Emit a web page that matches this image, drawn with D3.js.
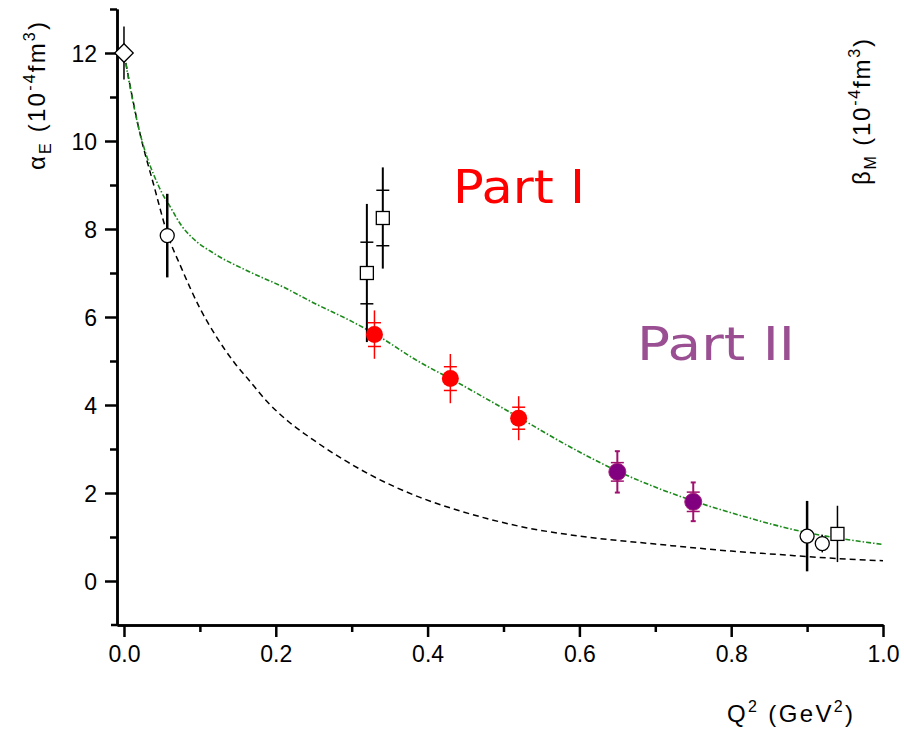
<!DOCTYPE html>
<html>
<head>
<meta charset="utf-8">
<script src="https://cdnjs.cloudflare.com/ajax/libs/d3/7.8.5/d3.min.js"></script>
<style>
  html, body { margin: 0; padding: 0; background: #fff; }
  svg { display: block; }
  .tick text { font-family: "Liberation Sans", Arial, sans-serif; font-size: 23px; fill: #000; }
</style>
</head>
<body>
<script>
// ---- data ----
// model curves: alpha_E(Q^2)
const greenQ2 = [0, 0.01, 0.02, 0.03, 0.04, 0.05, 0.06, 0.076, 0.09, 0.12, 0.165, 0.21, 0.25, 0.3, 0.33, 0.39, 0.43, 0.52, 0.58, 0.65, 0.75, 0.81, 0.9, 0.95, 1.0];
const greenVal = [12.0, 11.05, 10.25, 9.65, 9.2, 8.82, 8.53, 8.07, 7.8, 7.43, 7.03, 6.68, 6.32, 5.9, 5.62, 4.97, 4.6, 3.72, 3.12, 2.5, 1.82, 1.5, 1.1, 0.95, 0.83];
const blackQ2 = [0, 0.02, 0.04, 0.057, 0.076, 0.1, 0.12, 0.146, 0.164, 0.19, 0.217, 0.25, 0.295, 0.326, 0.39, 0.434, 0.478, 0.522, 0.6, 0.7, 0.8, 0.864, 0.94, 1.0];
const blackVal = [12.0, 10.25, 8.95, 7.9, 7.1, 6.2, 5.6, 4.95, 4.58, 4.05, 3.62, 3.2, 2.7, 2.4, 1.9, 1.64, 1.42, 1.24, 1.02, 0.84, 0.68, 0.6, 0.51, 0.46];

// real photon point
const diamondQ2 = [0];
const diamondVal = [12.0];
const diamondErr = [0.6];

// open circles
const circleQ2 = [0.057, 0.9, 0.92];
const circleVal = [7.85, 1.02, 0.85];
const circleErr = [0.95, 0.8, 0.2];
const circleBarWidth = [2.5, 2.5, 1.5];

// open squares
const squareQ2 = [0.32, 0.341, 0.94];
const squareVal = [7.0, 8.25, 1.07];
const squareStat = [0.7, 0.63, 0];
const squareTot = [1.57, 1.15, 0.64];

// Part I
const redQ2 = [0.33, 0.43, 0.52];
const redVal = [5.6, 4.6, 3.7];
const redStat = [0.27, 0.27, 0.25];
const redTot = [0.55, 0.56, 0.5];

// Part II
const purpleQ2 = [0.65, 0.75];
const purpleVal = [2.48, 1.8];
const purpleStat = [0.21, 0.22];
const purpleTot = [0.47, 0.44];

const xMajor = [0, 0.2, 0.4, 0.6, 0.8, 1.0];
const xMinor = [0.1, 0.3, 0.5, 0.7, 0.9];
const yMajor = [0, 2, 4, 6, 8, 10, 12];
const yMinor = [1, 3, 5, 7, 9, 11, 13];

// ---- layout ----
const W = 904, H = 731;
const svg = d3.select("body").append("svg").attr("width", W).attr("height", H);

const x = d3.scaleLinear().domain([-0.0092, 1.0]).range([117, 883]);
const y = d3.scaleLinear().domain([-1, 13]).range([625, 9]);

const zip = (a, b) => a.map((v, i) => [v, b[i]]);

// ---- axes ----
const axisStroke = 2.5;
function styleAxis(g) {
  g.select(".domain").attr("stroke", "#000").attr("stroke-width", axisStroke);
  g.selectAll(".tick line").attr("stroke", "#000").attr("stroke-width", axisStroke);
}

const yAxisMinor = svg.append("g").attr("transform", `translate(${x.range()[0]},0)`)
  .call(d3.axisLeft(y).tickValues(yMinor).tickSize(7).tickSizeOuter(0).tickFormat(""));
styleAxis(yAxisMinor);
const yAxis = svg.append("g").attr("transform", `translate(${x.range()[0]},0)`)
  .call(d3.axisLeft(y).tickValues(yMajor).tickSize(12).tickSizeOuter(0).tickPadding(8).tickFormat(d3.format("d")));
styleAxis(yAxis);
yAxis.selectAll(".tick text").attr("dy", "0.36em");

const xAxisMinor = svg.append("g").attr("transform", `translate(0,${y.range()[0]})`)
  .call(d3.axisBottom(x).tickValues(xMinor).tickSize(7).tickSizeOuter(0).tickFormat(""));
styleAxis(xAxisMinor);
const xAxis = svg.append("g").attr("transform", `translate(0,${y.range()[0]})`)
  .call(d3.axisBottom(x).tickValues(xMajor).tickSize(12).tickSizeOuter(0).tickPadding(9).tickFormat(d3.format(".1f")));
styleAxis(xAxis);
// small foot of the horizontal axis left of the vertical axis
svg.append("line").attr("x1", 111).attr("x2", x.range()[0]).attr("y1", y.range()[0]).attr("y2", y.range()[0])
  .attr("stroke", "#000").attr("stroke-width", axisStroke);

// ---- axis titles ----
const titleFont = '"Liberation Sans", Arial, sans-serif';
function titleWithUnits(sel, sym, sub) {
  sel.append("tspan").text(sym);
  sel.append("tspan").attr("font-size", 16).attr("dy", 6).text(sub);
  sel.append("tspan").attr("dy", -6).text(" (10");
  sel.append("tspan").attr("font-size", 16).attr("dy", -10).text("-4");
  sel.append("tspan").attr("dy", 10).text("fm");
  sel.append("tspan").attr("font-size", 16).attr("dy", -10).text("3");
  sel.append("tspan").attr("dy", 10).text(")");
}
const yTitle = svg.append("text")
  .attr("transform", "translate(45,96) rotate(-90)")
  .attr("text-anchor", "middle")
  .attr("textLength", 148).attr("lengthAdjust", "spacing")
  .attr("font-family", titleFont).attr("font-size", 24);
titleWithUnits(yTitle, "\u03b1", "E");

const yTitleR = svg.append("text")
  .attr("transform", "translate(870,112) rotate(-90)")
  .attr("text-anchor", "middle")
  .attr("textLength", 146).attr("lengthAdjust", "spacing")
  .attr("font-family", titleFont).attr("font-size", 24);
titleWithUnits(yTitleR, "\u03b2", "M");

const xTitle = svg.append("text")
  .attr("x", 727).attr("y", 722)
  .attr("textLength", 126).attr("lengthAdjust", "spacing")
  .attr("font-family", titleFont).attr("font-size", 24);
xTitle.append("tspan").text("Q");
xTitle.append("tspan").attr("font-size", 16).attr("dy", -10).text("2");
xTitle.append("tspan").attr("dy", 10).text(" (GeV");
xTitle.append("tspan").attr("font-size", 16).attr("dy", -10).text("2");
xTitle.append("tspan").attr("dy", 10).text(")");

// ---- curves ----
const line = d3.line().x(d => x(d[0])).y(d => y(d[1])).curve(d3.curveMonotoneX);
svg.append("path").datum(zip(blackQ2, blackVal)).attr("d", line)
  .attr("fill", "none").attr("stroke", "#000").attr("stroke-width", 1.5)
  .attr("stroke-dasharray", "6,4");
svg.append("path").datum(zip(greenQ2, greenVal)).attr("d", line)
  .attr("fill", "none").attr("stroke", "#1a8a1a").attr("stroke-width", 1.6)
  .attr("stroke-dasharray", "5,2,1.5,2");

// ---- error bar helpers ----
function vbar(q, lo, hi, color, w) {
  svg.append("line").attr("x1", x(q)).attr("x2", x(q)).attr("y1", y(lo)).attr("y2", y(hi))
    .attr("stroke", color).attr("stroke-width", w);
}
function hcap(q, v, half, color, w) {
  svg.append("line").attr("x1", x(q) - half).attr("x2", x(q) + half).attr("y1", y(v)).attr("y2", y(v))
    .attr("stroke", color).attr("stroke-width", w);
}

// diamond
diamondQ2.forEach((q, i) => {
  vbar(q, diamondVal[i] - diamondErr[i], diamondVal[i] + diamondErr[i], "#000", 1.5);
});
const diamond = d3.symbol().type(d3.symbolSquare).size(170);
svg.selectAll(".diamond").data(zip(diamondQ2, diamondVal)).join("path")
  .attr("d", diamond)
  .attr("transform", d => `translate(${x(d[0])},${y(d[1])}) rotate(45)`)
  .attr("fill", "#fff").attr("stroke", "#000").attr("stroke-width", 1.3);

// open squares
squareQ2.forEach((q, i) => {
  vbar(q, squareVal[i] - squareTot[i], squareVal[i] + squareTot[i], "#000", i === 2 ? 1.5 : 2);
  if (squareStat[i] > 0) {
    hcap(q, squareVal[i] + squareStat[i], 6.5, "#000", 1.5);
    hcap(q, squareVal[i] - squareStat[i], 6.5, "#000", 1.5);
  }
});
svg.selectAll(".sq").data(zip(squareQ2, squareVal)).join("rect")
  .attr("x", d => x(d[0]) - 6.5).attr("y", d => y(d[1]) - 6.5)
  .attr("width", 13).attr("height", 13)
  .attr("fill", "#fff").attr("stroke", "#000").attr("stroke-width", 1.3);

// open circles
circleQ2.forEach((q, i) => {
  vbar(q, circleVal[i] - circleErr[i], circleVal[i] + circleErr[i], "#000", circleBarWidth[i]);
});
svg.selectAll(".oc").data(zip(circleQ2, circleVal)).join("circle")
  .attr("cx", d => x(d[0])).attr("cy", d => y(d[1])).attr("r", 7)
  .attr("fill", "#fff").attr("stroke", "#000").attr("stroke-width", 1.3);

// Part I points
redQ2.forEach((q, i) => {
  vbar(q, redVal[i] - redTot[i], redVal[i] + redTot[i], "#ff0000", 1.5);
  hcap(q, redVal[i] + redStat[i], 6.5, "#ff0000", 1.5);
  hcap(q, redVal[i] - redStat[i], 6.5, "#ff0000", 1.5);
});
svg.selectAll(".red").data(zip(redQ2, redVal)).join("circle")
  .attr("cx", d => x(d[0])).attr("cy", d => y(d[1])).attr("r", 8.5)
  .attr("fill", "#ff0000");

// Part II points
purpleQ2.forEach((q, i) => {
  vbar(q, purpleVal[i] - purpleTot[i], purpleVal[i] + purpleTot[i], "#a0106e", 2);
  hcap(q, purpleVal[i] + purpleTot[i], 2.5, "#a0106e", 2);
  hcap(q, purpleVal[i] - purpleTot[i], 2.5, "#a0106e", 2);
  hcap(q, purpleVal[i] + purpleStat[i], 6.5, "#a0106e", 1.5);
  hcap(q, purpleVal[i] - purpleStat[i], 6.5, "#a0106e", 1.5);
});
svg.selectAll(".pur").data(zip(purpleQ2, purpleVal)).join("circle")
  .attr("cx", d => x(d[0])).attr("cy", d => y(d[1])).attr("r", 8.5)
  .attr("fill", "#800080").attr("stroke", "#a8207a").attr("stroke-width", 1);

// ---- annotations ----
const noteFont = '"Comic Sans MS", "DejaVu Sans", sans-serif';
svg.append("text").attr("x", 453).attr("y", 203)
  .attr("font-family", noteFont).attr("font-size", 46)
  .attr("textLength", 132).attr("lengthAdjust", "spacingAndGlyphs")
  .attr("fill", "#ff0000").text("Part I");
svg.append("text").attr("x", 637).attr("y", 360)
  .attr("font-family", noteFont).attr("font-size", 46)
  .attr("textLength", 158).attr("lengthAdjust", "spacingAndGlyphs")
  .attr("fill", "#9b4f93").text("Part II");
</script>
</body>
</html>
